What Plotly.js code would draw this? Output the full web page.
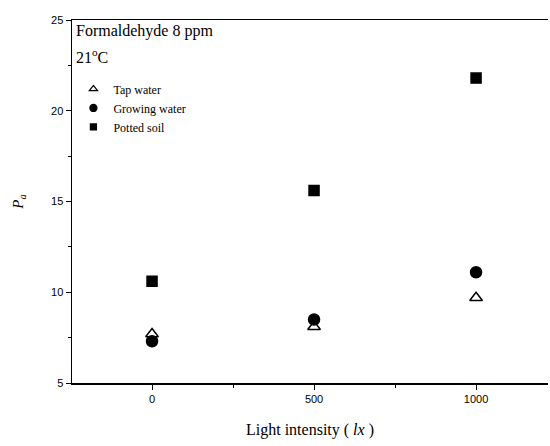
<!DOCTYPE html>
<html><head><meta charset="utf-8">
<script src="https://cdn.plot.ly/plotly-3.0.1.min.js"></script>
<style>html,body{margin:0;padding:0;background:#fff}#chart{width:550px;height:446px}</style>
</head><body><div id="chart"></div>
<script>
const lightIntensity = [0, 500, 1000];
const tapWater = [7.7, 8.1, 9.7];
const growingWater = [7.3, 8.5, 11.1];
const pottedSoil = [10.6, 15.6, 21.8];
const seriesNames = ['Tap water', 'Growing water', 'Potted soil'];
const xTicks = [0, 500, 1000];
const yTicks = [5, 10, 15, 20, 25];
const noteLines = ['Formaldehyde 8 ppm', '21<sup>o</sup>C'];

const serif = 'Liberation Serif';
const sans = 'Liberation Sans';

const symbols = ['triangle-up-open', 'circle', 'square'];
const sizes = [11, 11, 10];
const legendSizes = [7, 7, 6];
const values = [tapWater, growingWater, pottedSoil];

const traces = [];
values.forEach((v, i) => {
  traces.push({x: lightIntensity, y: v, name: seriesNames[i], mode: 'markers', type: 'scatter',
    showlegend: false,
    marker: {symbol: symbols[i], size: sizes[i], color: '#000', line: {width: 1.5, color: '#000'}}});
});
values.forEach((v, i) => {
  traces.push({x: [null], y: [null], name: seriesNames[i], mode: 'markers', type: 'scatter',
    showlegend: true, hoverinfo: 'skip',
    marker: {symbol: symbols[i], size: legendSizes[i], color: '#000', line: {width: 1.3, color: '#000'}}});
});

const layout = {
  width: 550, height: 446,
  margin: {l: 72, r: 2, t: 20, b: 63},
  paper_bgcolor: '#fff', plot_bgcolor: '#fff',
  font: {family: serif},
  showlegend: true,
  legend: {x: 0.003, y: 0.85, xanchor: 'left', yanchor: 'top', bgcolor: 'rgba(0,0,0,0)',
           font: {family: serif, size: 12, color: '#000'}, itemsizing: 'trace', tracegroupgap: 0, itemwidth: 30},
  xaxis: {range: [-247, 1222], tickvals: xTicks, ticktext: xTicks.map(String),
          showgrid: false, zeroline: false, showline: true, linecolor: '#000', linewidth: 1.5,
          mirror: true, ticks: 'outside', ticklen: 5, tickwidth: 1, tickcolor: '#000',
          minor: {tickvals: [250, 750], ticks: 'outside', ticklen: 3, tickcolor: '#000'},
          tickfont: {family: sans, size: 11, color: '#000'},
          title: {text: 'Light intensity ( <i>lx</i> )', font: {family: serif, size: 16, color: '#000'}, standoff: 20}},
  yaxis: {range: [5, 25], tickvals: yTicks, ticktext: yTicks.map(String),
          showgrid: false, zeroline: false, showline: true, linecolor: '#000', linewidth: 1.5,
          ticks: 'outside', ticklen: 5, tickwidth: 1, tickcolor: '#000',
          minor: {tickvals: [7.5, 12.5, 17.5, 22.5], ticks: 'outside', ticklen: 3, tickcolor: '#000'},
          tickfont: {family: sans, size: 11, color: '#000'},
          title: {text: '<i>P</i><sub><i>a</i></sub>', font: {family: serif, size: 15, color: '#000'}, standoff: 24}},
  annotations: [
    {xref: 'paper', yref: 'paper', x: 0.005, y: 1.0, xanchor: 'left', yanchor: 'top', showarrow: false,
     align: 'left', text: noteLines[0], font: {family: serif, size: 16, color: '#000'}},
    {xref: 'paper', yref: 'paper', x: 0.005, y: 0.935, xanchor: 'left', yanchor: 'top', showarrow: false,
     align: 'left', text: noteLines[1], font: {family: serif, size: 16, color: '#000'}}
  ]
};

Plotly.newPlot('chart', traces, layout, {displayModeBar: false, staticPlot: true});
</script></body></html>
